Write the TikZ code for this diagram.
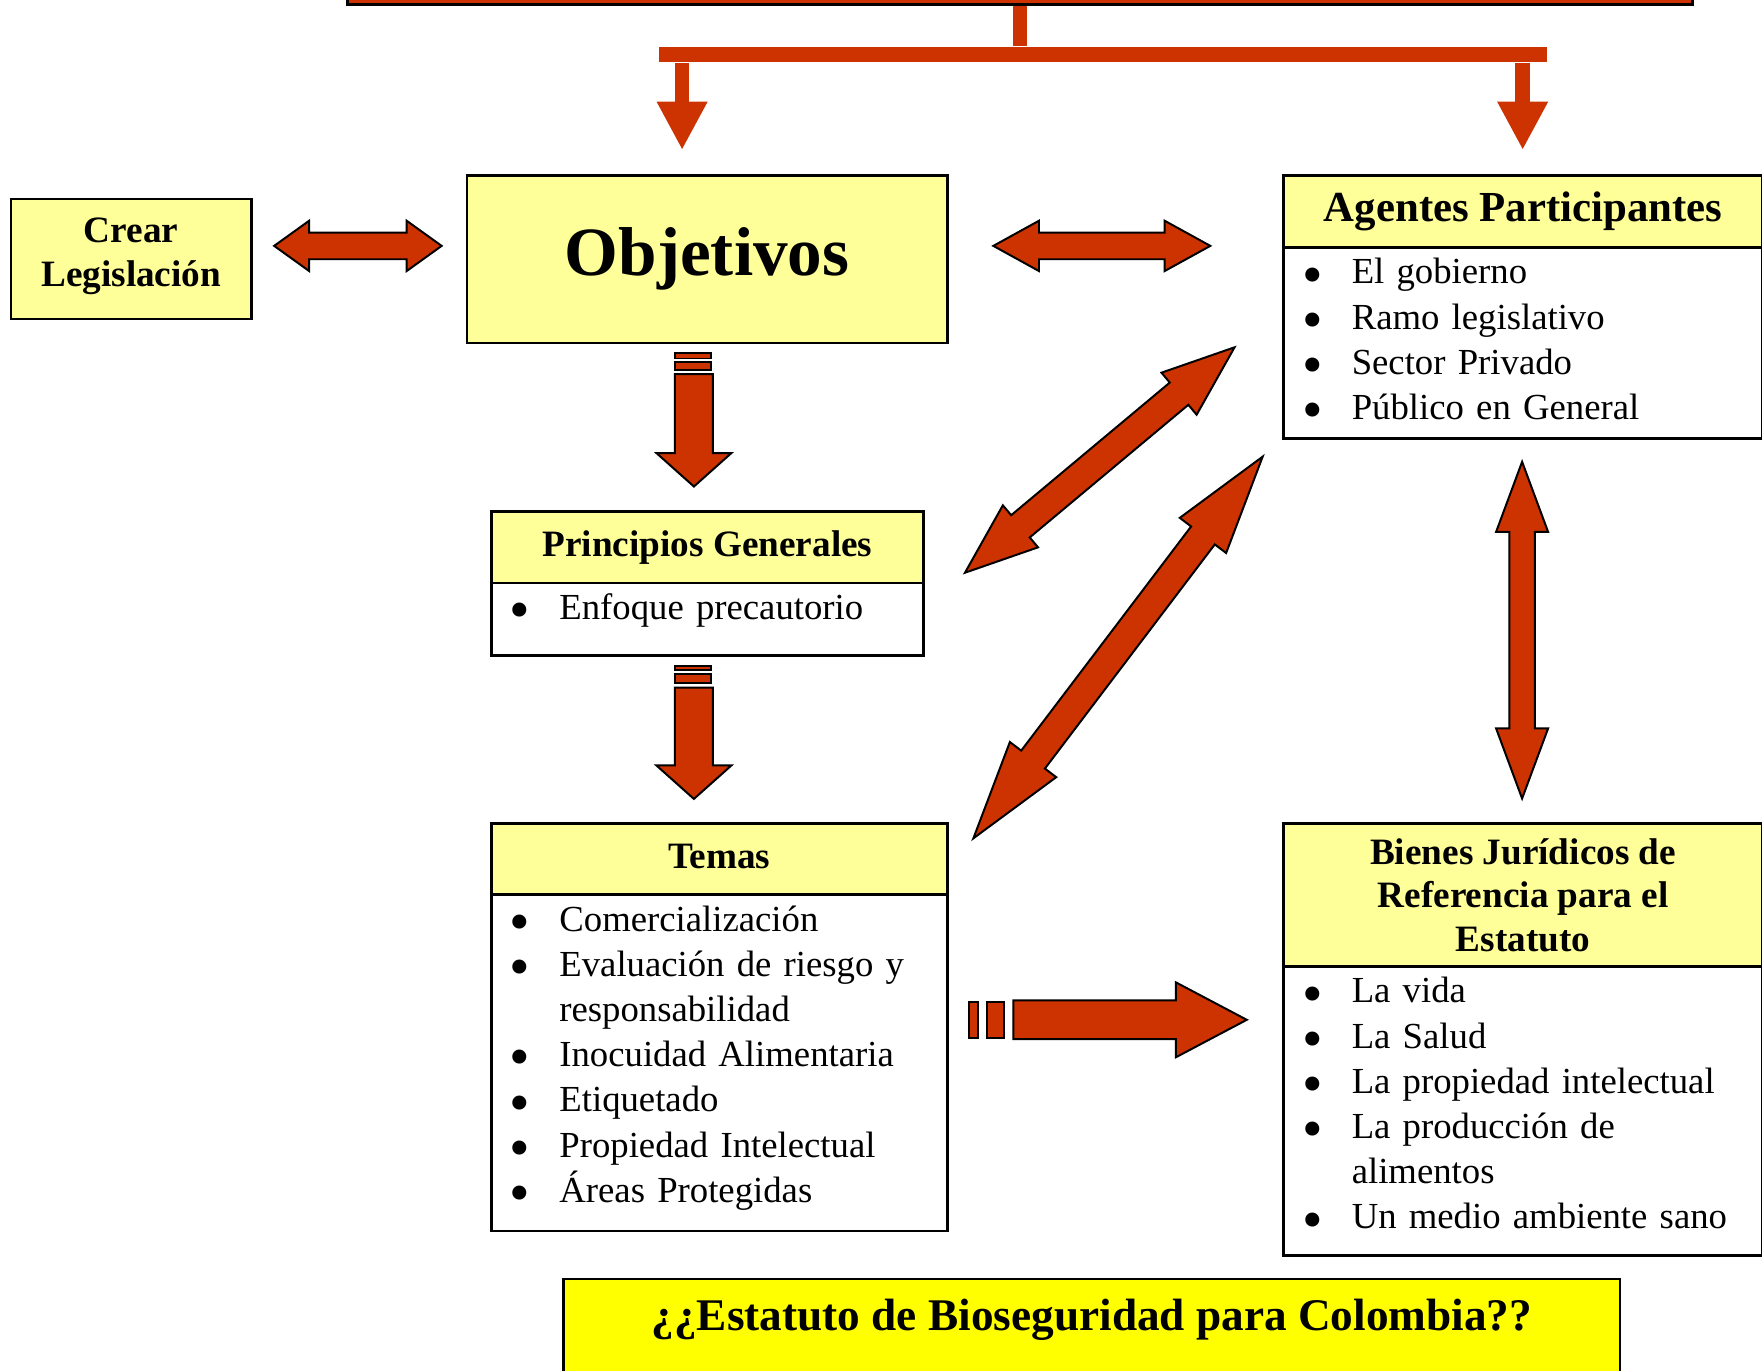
\documentclass[tikz,border=0pt]{standalone}
\usepackage{fontspec}
\setmainfont{Liberation Serif}
\usepackage{xcolor}
\usepackage{graphicx}
\usepackage{tikz}
\usetikzlibrary{arrows.meta,shapes.arrows,positioning}

\definecolor{rojo}{HTML}{CC3300}
\definecolor{crema}{HTML}{FFFF99}
\definecolor{amarillo}{HTML}{FFFF00}
\newcommand{\punto}{\makebox[0.528cm][l]{\raisebox{-3.1pt}{\scalebox{1.6}{\textbullet}}}}

\begin{document}
\begin{tikzpicture}[x=0.012cm,y=-0.012cm,
  caja/.style={draw,line width=0.8pt,inner sep=0pt,anchor=north west},
  cabeza/.style={caja,fill=crema,align=center,font=\bfseries\fontsize{11.3pt}{13.2pt}\selectfont},
  lista/.style={caja,fill=white},
  items/.style={anchor=north west,inner sep=0pt,text width=4.7cm,align=left,
    xshift=0.205cm,yshift=-1.67pt,font=\fontsize{11.15pt}{13.72pt}\selectfont},
  bloque/.style={draw,line width=0.6pt,fill=rojo,inner xsep=0pt},
  doble/.style={bloque,double arrow},
  simple/.style={bloque,single arrow,anchor=tail},
  tira/.style={draw,line width=0.6pt,fill=rojo},
  baja/.style={rojo,line width=0.156cm,-{Triangle[length=0.516cm,width=0.504cm]}}]

  \clip (0,0) rectangle (1568,1219.2);

  % parte de arriba
  \node[caja,fill=rojo,anchor=south west,minimum width=14.352cm,minimum height=0.6cm] (titulo) at (308,5) {};
  \node[fill=rojo,inner sep=0pt,anchor=north west,minimum width=9.48cm,minimum height=0.168cm] (barra) at (586,41) {};
  \coordinate (oin) at (607,133.5);
  \coordinate (ain) at (1355,133.5);
  \draw[rojo,line width=0.144cm] (titulo.south) -- (titulo.south |- barra.north);
  \draw[baja] (barra.south -| oin) -- (oin);
  \draw[baja] (barra.south -| ain) -- (ain);

  % cajas
  \node[cabeza,minimum width=2.568cm,minimum height=1.282cm,text depth=4.2pt,font=\bfseries\fontsize{11.3pt}{13.5pt}\selectfont] (crear) at (8.5,175.9) {Crear\\Legislación};
  \node[cabeza,minimum width=5.128cm,minimum height=1.790cm,font=\bfseries\fontsize{21pt}{25pt}\selectfont] (obj) at (414.3,154.8) {Objetivos};

  \node[cabeza,minimum width=5.11cm,minimum height=0.768cm,font=\bfseries\fontsize{13pt}{15pt}\selectfont] (agh) at (1141.2,155) {Agentes Participantes};
  \node[lista,below=-0.8pt of agh,minimum width=5.11cm,minimum height=2.042cm] (agl) {};
  \node[items] (agt) at (agl.north west) {\strut\punto El gobierno\\ \punto Ramo legislativo\\ \punto Sector Privado\\ \punto Público en General};

  \node[cabeza,minimum width=4.613cm,minimum height=0.766cm] (prh) at (436.1,453.8) {Principios Generales};
  \node[lista,below=-0.8pt of prh,minimum width=4.613cm,minimum height=0.773cm] (prl) {};
  \node[items] (prt) at (prl.north west) {\strut\punto Enfoque precautorio};

  \node[cabeza,minimum width=4.866cm,minimum height=0.758cm,text depth=2pt] (temh) at (436.1,731.8) {Temas};
  \node[lista,below=-0.8pt of temh,minimum width=4.866cm,minimum height=3.588cm] (teml) {};
  \node[items] (temt) at (teml.north west) {\strut\punto Comercialización\\ \punto Evaluación de riesgo y\\ \hspace*{0.528cm}responsabilidad\\ \punto Inocuidad Alimentaria\\ \punto Etiquetado\\ \punto Propiedad Intelectual\\ \punto Áreas Protegidas};

  \node[cabeza,minimum width=5.11cm,minimum height=1.524cm] (bih) at (1141.2,731.8) {Bienes Jurídicos de\\Referencia para el\\Estatuto};
  \node[lista,below=-0.8pt of bih,minimum width=5.11cm,minimum height=3.086cm] (bil) {};
  \node[items] (bit) at (bil.north west) {\strut\punto La vida\\ \punto La Salud\\ \punto La propiedad intelectual\\ \punto La producción de\\ \hspace*{0.528cm}alimentos\\ \punto Un medio ambiente sano};

  \node[caja,fill=amarillo,minimum width=11.274cm,minimum height=1.102cm,text height=9pt,text depth=9pt,font=\bfseries\fontsize{13.75pt}{16pt}\selectfont] (est) at (500.5,1137) {¿¿Estatuto de Bioseguridad para Colombia??};

  % flechas
  \node[doble,minimum height=1.788cm,inner ysep=0.132cm,double arrow head extend=0.126cm,double arrow tip angle=71.4] (f1) at (318.5,218.8) {};
  \node[doble,minimum height=2.316cm,inner ysep=0.132cm,double arrow head extend=0.126cm,double arrow tip angle=57.7] (f2) at (980.5,218.8) {};
  \node[doble,rotate=90,minimum height=3.594cm,inner ysep=0.126cm,double arrow head extend=0.141cm,double arrow tip angle=40.7] (f3) at (1354.5,560.75) {};
  \node[doble,rotate=39.9,minimum height=3.751cm,inner ysep=0.144cm,double arrow head extend=0.138cm,double arrow tip angle=41.5] (f4) at (978.65,409.35) {};
  \node[doble,rotate=52.84,minimum height=5.112cm,inner ysep=0.148cm,double arrow head extend=0.152cm,double arrow tip angle=32.8] (f5) at (994.9,576.2) {};

  \node[simple,rotate=-90,minimum height=1.2cm,inner ysep=0.192cm,single arrow head extend=0.198cm,single arrow tip angle=96.5] (f6) at (617.5,332) {};
  \draw[tira] (601,314) rectangle (633,319);
  \draw[tira] (601,322) rectangle (633,329);
  \node[simple,rotate=-90,minimum height=1.188cm,inner ysep=0.192cm,single arrow head extend=0.198cm,single arrow tip angle=96.5] (f7) at (617.5,611) {};
  \draw[tira] (601,592.5) rectangle (633,596);
  \draw[tira] (601,600) rectangle (633,607.5);
  \node[simple,minimum height=2.49cm,inner ysep=0.196cm,single arrow head extend=0.194cm,single arrow tip angle=55.7] (f8) at (901,907.5) {};
  \draw[tira] (862.5,891.4) rectangle (870,924);
  \draw[tira] (878,891.4) rectangle (893.5,924);
\end{tikzpicture}
\end{document}
